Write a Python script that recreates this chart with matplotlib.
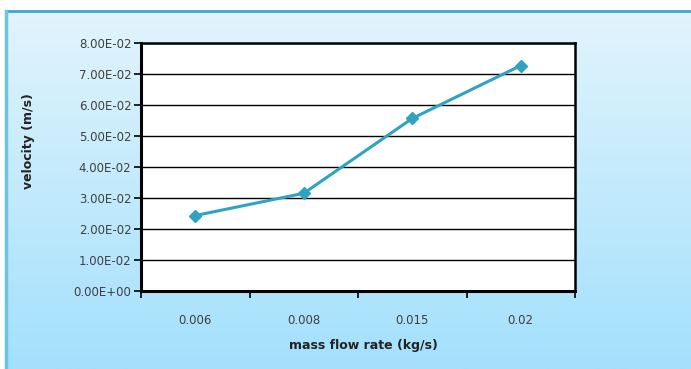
import numpy as np
import matplotlib
matplotlib.use('Agg')
import matplotlib.pyplot as plt

# data
categories = ['0.006', '0.008', '0.015', '0.02']
velocity = [0.0243, 0.0315, 0.0557, 0.0728]
y_ticks = [0.0, 0.01, 0.02, 0.03, 0.04, 0.05, 0.06, 0.07, 0.08]
y_labels = ['0.00E+00', '1.00E-02', '2.00E-02', '3.00E-02', '4.00E-02',
            '5.00E-02', '6.00E-02', '7.00E-02', '8.00E-02']

W, H = 691, 369
fig = plt.figure(figsize=(W / 100, H / 100), dpi=100)
fig.patch.set_facecolor('white')

# gradient background of the chart area
bg = fig.add_axes([6 / W, 0, 1 - 6 / W, 1 - 11 / H])
top_c = np.array([0xe2, 0xf4, 0xfd]) / 255
bot_c = np.array([0xa3, 0xe0, 0xfc]) / 255
t = np.linspace(0, 1, 200)[:, None]
grad = top_c[None, :] * (1 - t) + bot_c[None, :] * t
bg.imshow(grad[:, None, :], aspect='auto', extent=[0, 1, 0, 1])
bg.set_xlim(0, 1)
bg.set_ylim(0, 1)
bg.axis('off')
bg.plot([0, 1], [1, 1], color='#3aa8d0', lw=2, clip_on=False)
bg.plot([0, 0], [0, 1], color='#6cc4e4', lw=2.5, clip_on=False)

ax = fig.add_axes([141 / W, 1 - 290.7 / H, (575 - 141) / W, (290.7 - 43.3) / H])
ax.set_facecolor('white')

x = np.arange(len(categories)) + 0.5
ax.plot(x, velocity, color='#2ea4c2', lw=2.2, marker='D', markersize=6,
        markeredgecolor='#2ea4c2', zorder=3)

ax.set_xlim(0, len(categories))
ax.set_ylim(0, 0.08)
ax.set_yticks(y_ticks)
ax.set_yticklabels(y_labels, fontsize=8.5, color='#404040')
ax.yaxis.grid(True, color='black', lw=1)
ax.set_axisbelow(True)

ax.set_xticks(np.arange(len(categories) + 1))
ax.set_xticklabels([])
ax.set_xticks(x, minor=True)
ax.set_xticklabels(categories, minor=True, fontsize=8.5, color='#404040')
ax.tick_params(axis='x', which='minor', length=0, pad=17)
ax.tick_params(axis='x', which='major', length=5, width=1.2, direction='out')
ax.tick_params(axis='y', length=5, width=1.2, direction='out', pad=2)

for s in ['left', 'bottom']:
    ax.spines[s].set_linewidth(2.2)
for s in ['top', 'right']:
    ax.spines[s].set_linewidth(1.8)

ax.set_xlabel('mass flow rate (kg/s)', fontsize=9, fontweight='bold',
              color='#222222')
ax.set_ylabel('velocity (m/s)', fontsize=9, fontweight='bold',
              color='#222222')
ax.xaxis.set_label_coords(0.512, -0.195)
ax.yaxis.set_label_coords(-0.245, 0.605)

fig.savefig('out.png', dpi=100)
